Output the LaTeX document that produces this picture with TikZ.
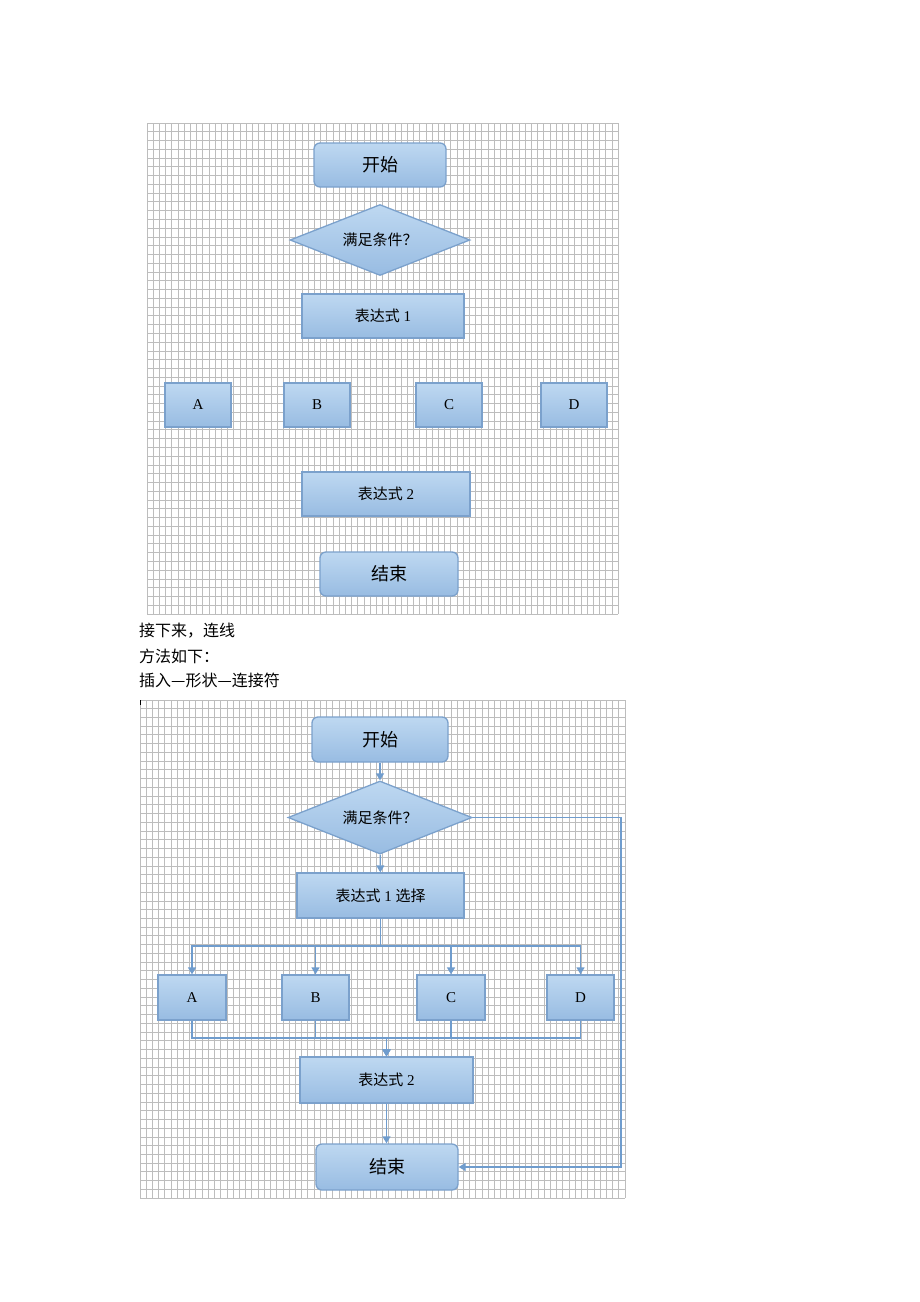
\documentclass[tikz,border=0pt]{standalone}
\usepackage{fontspec}
\setmainfont{Liberation Serif}
\newfontfamily\cjk{Noto Sans CJK SC}
\usetikzlibrary{shapes.geometric,arrows.meta,calc}
\definecolor{bxtop}{HTML}{BED8F1}
\definecolor{bxbot}{HTML}{98BCE2}
\definecolor{bxline}{HTML}{7BA1CC}
\definecolor{conn}{HTML}{6F9CCD}
\definecolor{gridc}{HTML}{BDBDBD}
\tikzset{
  box/.style={draw=bxline, line width=1.3pt, top color=bxtop, bottom color=bxbot, inner sep=0pt, align=center},
  rbox/.style={box, rounded corners=6pt},
  dbox/.style={box, diamond, aspect=2.5},
  cn/.style={draw=conn, line width=1.3pt},
  ca/.style={cn, -{Triangle[width=8pt,length=7pt]}},
  big/.style={font=\cjk\fontsize{18}{18}\selectfont},
  mid/.style={font=\fontsize{15}{15}\selectfont},
  bodytext/.style={anchor=west, inner sep=0pt, font=\cjk\fontsize{16}{16}\selectfont}
}
\begin{document}
\begin{tikzpicture}[x=1pt,y=-1pt]
\useasboundingbox (0,0) rectangle (920,1302);
\fill[white] (0,0) rectangle (920,1302);
% grid 1
\foreach \i in {0,...,76} \draw[gridc, line width=1pt] ({147+\i*6.2},123) -- ({147+\i*6.2},614);
\foreach \j in {0,...,56} \draw[gridc, line width=1pt] (147,{123+\j*8.77}) -- (618,{123+\j*8.77});
% grid 2
\foreach \i in {0,...,78} \draw[gridc, line width=1pt] ({140+\i*6.22},700) -- ({140+\i*6.22},1198);
\foreach \j in {0,...,57} \draw[gridc, line width=1pt] (140,{700+\j*8.74}) -- (625,{700+\j*8.74});
\draw[black, line width=1.2pt] (140.5,700) -- (140.5,705);

% top diagram
\node[rbox, big, minimum width=132pt, minimum height=44pt] (s1) at (380,165) {开始};
\node[dbox, minimum width=180pt, minimum height=71pt, font=\cjk\fontsize{15}{15}\selectfont] (d1) at (380,240) {满足条件？};
\node[box, mid, minimum width=162pt, minimum height=44pt] (e1) at (383,316) {{\cjk 表达式} 1};
\node[box, mid, minimum width=66pt, minimum height=44pt] (a1) at (198,405) {A};
\node[box, mid, minimum width=66pt, minimum height=44pt] (b1) at (317,405) {B};
\node[box, mid, minimum width=66pt, minimum height=44pt] (c1) at (449,405) {C};
\node[box, mid, minimum width=66pt, minimum height=44pt] (dd1) at (574,405) {D};
\node[box, mid, minimum width=168pt, minimum height=44pt] (f1) at (386,494) {{\cjk 表达式} 2};
\node[rbox, big, minimum width=138pt, minimum height=44pt] (t1) at (389,574) {结束};

% text
\node[bodytext] (l1) at (139,631) {接下来，连线};
\node[bodytext] (l2) at (139,656) {方法如下：};
\node[bodytext] (l3) at (139,680) {插入—形状—连接符};

% bottom diagram
\node[rbox, big, minimum width=136pt, minimum height=45pt] (s2) at (380,739.5) {开始};
\node[dbox, minimum width=184pt, minimum height=73pt, font=\cjk\fontsize{15}{15}\selectfont] (d2) at (380,817.5) {满足条件？};
\node[box, mid, minimum width=167pt, minimum height=45pt] (e2) at (380.5,895.5) {{\cjk 表达式} 1 {\cjk 选择}};
\node[box, mid, minimum width=68pt, minimum height=45pt] (a2) at (192,997.5) {A};
\node[box, mid, minimum width=67pt, minimum height=45pt] (b2) at (315.5,997.5) {B};
\node[box, mid, minimum width=68pt, minimum height=45pt] (c2) at (451,997.5) {C};
\node[box, mid, minimum width=67pt, minimum height=45pt] (dd2) at (580.5,997.5) {D};
\node[box, mid, minimum width=173pt, minimum height=46pt] (f2) at (386.5,1080) {{\cjk 表达式} 2};
\node[rbox, big, minimum width=142pt, minimum height=46pt] (t2) at (387,1167) {结束};

\coordinate (bus1) at (380.5,946);
\coordinate (bus2) at (386.5,1038);
\coordinate (side) at (621,1167);

\draw[ca] (s2) -- (d2);
\draw[ca] (d2) -- (e2);
\foreach \X in {a2,b2,c2,dd2}
  \draw[ca] (e2.south) -- (e2.south |- bus1) -| (\X.north);
\foreach \X in {a2,b2,c2,dd2}
  \draw[ca] (\X.south) |- (f2.north |- bus2) -- (f2.north);
\draw[ca] (f2.south) -- (f2.south |- t2.north);
\draw[ca] (d2.east) -| (side) -- (t2.east);
\end{tikzpicture}
\end{document}
